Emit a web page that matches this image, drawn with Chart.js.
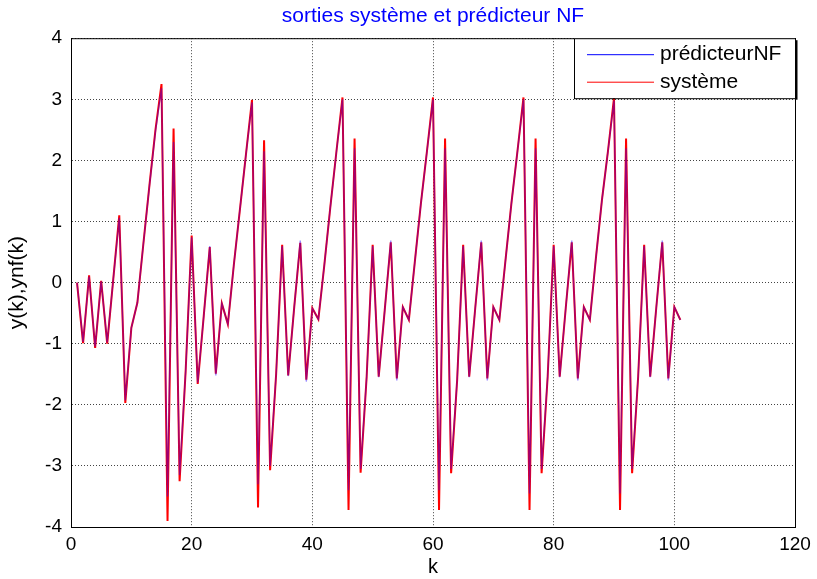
<!DOCTYPE html>
<html>
<head>
<meta charset="utf-8">
<script src="https://cdn.jsdelivr.net/npm/chart.js@4.4.1/dist/chart.umd.min.js"></script>
<style>
  html, body { margin: 0; padding: 0; background: #fff; }
  #wrap { width: 817px; height: 579px; }
</style>
</head>
<body>
<div id="wrap"><canvas id="graphe"></canvas></div>
<script>
// k = 1..101
const k = [];
for (let i = 1; i <= 101; i++) k.push(i);

// sortie du système
const ySysteme = [
  0, -0.99, 0.12, -1.07, 0.03, -1.0, 0.05, 1.1, -1.97, -0.74,
  -0.33, 0.64, 1.59, 2.5, 3.25, -3.9, 2.52, -3.25, -1.45, 0.77,
  -1.66, -0.55, 0.58, -1.49, -0.34, -0.68, 0.3, 1.2, 2.1, 2.99,
  -3.68, 2.33, -3.07, -1.5, 0.62, -1.52, -0.4, 0.65, -1.59, -0.42,
  -0.6, 0.3, 1.25, 2.15, 3.03, -3.72, 2.36, -3.11, -1.55, 0.62,
  -1.54, -0.45, 0.66, -1.57, -0.4, -0.61, 0.35, 1.3, 2.15, 3.03,
  -3.72, 2.36, -3.12, -1.6, 0.62, -1.54, -0.42, 0.66, -1.57, -0.4,
  -0.61, 0.35, 1.3, 2.15, 3.03, -3.72, 2.36, -3.12, -1.55, 0.62,
  -1.54, -0.42, 0.66, -1.57, -0.4, -0.61, 0.4, 1.35, 2.15, 3.02,
  -3.72, 2.36, -3.12, -1.55, 0.62, -1.54, -0.42, 0.66, -1.57, -0.4,
  -0.61
];

// sortie du prédicteur NF
const yPredicteur = [
  0, -0.97, 0.1, -1.05, 0.02, -0.98, 0.05, 1.06, -1.93, -0.74,
  -0.33, 0.64, 1.58, 2.48, 3.18, -3.5, 2.3, -3.15, -1.45, 0.74,
  -1.64, -0.55, 0.6, -1.52, -0.34, -0.68, 0.3, 1.2, 2.1, 2.95,
  -3.3, 2.15, -3.0, -1.5, 0.6, -1.53, -0.4, 0.69, -1.62, -0.42,
  -0.6, 0.3, 1.25, 2.15, 3.0, -3.4, 2.2, -3.05, -1.55, 0.6,
  -1.55, -0.45, 0.69, -1.6, -0.4, -0.61, 0.35, 1.3, 2.15, 3.0,
  -3.4, 2.2, -3.05, -1.6, 0.6, -1.55, -0.42, 0.69, -1.6, -0.4,
  -0.61, 0.35, 1.3, 2.15, 3.0, -3.45, 2.2, -3.05, -1.55, 0.6,
  -1.55, -0.42, 0.69, -1.6, -0.4, -0.61, 0.4, 1.35, 2.15, 2.98,
  -3.45, 2.2, -3.05, -1.55, 0.6, -1.55, -0.42, 0.69, -1.6, -0.4,
  -0.61
];

const xTicks = [0, 20, 40, 60, 80, 100, 120];
const yTicks = [-4, -3, -2, -1, 0, 1, 2, 3, 4];

const police = 'Liberation Sans, Arial, sans-serif';

// cadre noir autour de la zone de tracé + légende façon MATLAB
const cadreLegende = {
  id: 'cadreLegende',
  afterLayout(chart) {
    // titre centré sur la zone de tracé
    if (chart.titleBlock) {
      chart.titleBlock.left = chart.chartArea.left;
      chart.titleBlock.right = chart.chartArea.right;
    }
  },
  afterDatasetsDraw(chart) {
    const ctx = chart.ctx;
    const a = chart.chartArea;
    ctx.save();
    ctx.strokeStyle = '#000';
    ctx.lineWidth = 1;
    ctx.strokeRect(a.left + 0.5, a.top + 0.5, a.right - a.left, a.bottom - a.top);

    // légende
    const bx = 574, by = a.top, bw = 221, bh = 60;
    ctx.fillStyle = '#fff';
    ctx.fillRect(bx, by, bw, bh);
    ctx.strokeRect(bx + 0.5, by + 0.5, bw, bh);
    ctx.lineWidth = 2;
    ctx.beginPath();
    ctx.moveTo(bx + bw + 1.5, by + 2);
    ctx.lineTo(bx + bw + 1.5, by + bh + 1.5);
    ctx.stroke();
    const entrees = [chart.data.datasets[0], chart.data.datasets[1]];
    ctx.font = '21px ' + police;
    ctx.textBaseline = 'middle';
    entrees.forEach(function(ds, i) {
      const ly = by + 16.5 + i * 27.5;
      ctx.strokeStyle = ds.legendColor;
      ctx.lineWidth = 1;
      ctx.beginPath();
      ctx.moveTo(bx + 13, ly);
      ctx.lineTo(bx + 80, ly);
      ctx.stroke();
      ctx.fillStyle = '#000';
      ctx.fillText(ds.label, bx + 86, ly);
    });
    ctx.restore();
  }
};

const grille = { color: '#444', lineWidth: 1, tickLength: 0, drawTicks: false };

const ctx = document.getElementById('graphe').getContext('2d');
const graphe = new Chart(ctx, {
  type: 'line',
  data: {
    labels: k,
    datasets: [
      {
        label: 'prédicteurNF',
        data: yPredicteur,
        borderColor: 'rgba(40, 0, 255, 0.45)',
        legendColor: '#0000ff',
        borderWidth: 1.4,
        pointRadius: 0,
        tension: 0,
        order: 0
      },
      {
        label: 'système',
        data: ySysteme,
        borderColor: '#ff0000',
        legendColor: '#ff0000',
        borderWidth: 2,
        pointRadius: 0,
        tension: 0,
        order: 1
      }
    ]
  },
  plugins: [cadreLegende],
  options: {
    responsive: true,
    maintainAspectRatio: false,
    animation: false,
    layout: { padding: { left: 0, right: 22, top: 0, bottom: 0 } },
    plugins: {
      legend: { display: false },
      tooltip: { enabled: false },
      title: {
        display: true,
        text: 'sorties système et prédicteur NF',
        color: '#0000ff',
        font: { family: police, size: 21, weight: 'normal' },
        padding: { top: 4, bottom: 9 }
      }
    },
    scales: {
      x: {
        type: 'linear',
        min: 0,
        max: 120,
        afterBuildTicks: function(axis) {
          axis.ticks = xTicks.map(function(v) { return { value: v }; });
        },
        afterFit: function(axis) { axis.height = 52; },
        grid: grille,
        border: { display: true, color: '#000', dash: [1, 2] },
        ticks: {
          color: '#000',
          padding: 6,
          maxRotation: 0,
          font: { family: police, size: 19 }
        },
        title: {
          display: true,
          text: 'k',
          color: '#000',
          font: { family: police, size: 20 },
          padding: { top: 0, bottom: 0 }
        }
      },
      y: {
        min: -4,
        max: 4,
        afterBuildTicks: function(axis) {
          axis.ticks = yTicks.map(function(v) { return { value: v }; });
        },
        afterFit: function(axis) { axis.width = 71; },
        grid: grille,
        border: { display: true, color: '#000', dash: [1, 2] },
        ticks: {
          color: '#000',
          padding: 9,
          font: { family: police, size: 19 }
        },
        title: {
          display: true,
          text: 'y(k),ynf(k)',
          color: '#000',
          font: { family: police, size: 21 },
          padding: { top: 5, bottom: 0 }
        }
      }
    }
  }
});
</script>
</body>
</html>
